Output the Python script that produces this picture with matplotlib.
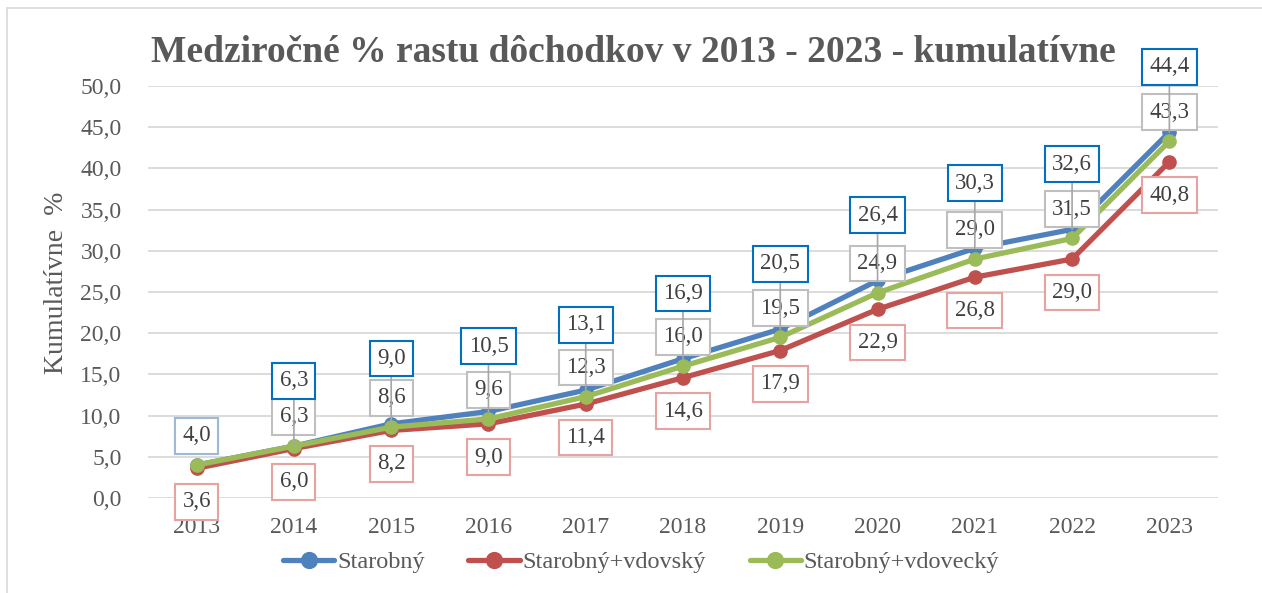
import matplotlib

matplotlib.use("Agg")
import matplotlib.pyplot as plt
from matplotlib.patches import Rectangle
from matplotlib.ticker import FuncFormatter

years = ["2013", "2014", "2015", "2016", "2017", "2018", "2019", "2020", "2021", "2022", "2023"]
starobny = [4.0, 6.3, 9.0, 10.5, 13.1, 16.9, 20.5, 26.4, 30.3, 32.6, 44.4]
vdovsky = [3.6, 6.0, 8.2, 9.0, 11.4, 14.6, 17.9, 22.9, 26.8, 29.0, 40.8]
vdovecky = [4.0, 6.3, 8.6, 9.6, 12.3, 16.0, 19.5, 24.9, 29.0, 31.5, 43.3]

TITLE = "Medziročné % rastu dôchodkov v 2013 - 2023 - kumulatívne"
YLABEL = "Kumulatívne  %"

BLUE = "#4F81BD"
RED = "#C0504D"
GREEN = "#9BBB59"
TEXT = "#595959"
LABEL_TEXT = "#404040"

plt.rcParams["font.family"] = ["Liberation Serif", "DejaVu Serif"]


def fmt(v):
    return f"{v:.1f}".replace(".", ",")


fig = plt.figure(figsize=(12.62, 5.93), dpi=100)
ax = fig.add_axes([148 / 1262, 1 - 498 / 593, 1070 / 1262, 412 / 593])

x = list(range(len(years)))
series = [
    ("Starobný", starobny, BLUE),
    ("Starobný+vdovský", vdovsky, RED),
    ("Starobný+vdovecký", vdovecky, GREEN),
]
for name, vals, col in series:
    ax.plot(x, vals, color=col, linewidth=3.8, marker="o", markersize=9.5,
            label=name, solid_capstyle="round", zorder=3)

ax.set_xlim(-0.5, len(years) - 0.5)
ax.set_ylim(0, 50)
ax.set_yticks(range(0, 51, 5))
ax.yaxis.set_major_formatter(FuncFormatter(lambda v, p: fmt(v)))
ax.set_xticks(x)
ax.set_xticklabels(years)
ax.grid(axis="y", color="#D9D9D9", linewidth=1.3)
ax.set_axisbelow(True)
for s in ax.spines.values():
    s.set_visible(False)
ax.tick_params(axis="both", length=0, labelsize=17, colors=TEXT)
ax.tick_params(axis="x", pad=14)
ax.tick_params(axis="y", pad=19)


def box(edge):
    return {"boxstyle": "square,pad=0.32", "facecolor": "white", "edgecolor": edge, "linewidth": 1.5}


# grey (vdovecký) labels above
for i, v in enumerate(vdovecky):
    ax.annotate(fmt(v), (i, v), textcoords="offset points", xytext=(0, 21),
                ha="center", va="center", fontsize=16.5, color=LABEL_TEXT,
                bbox=box("#BFBFBF"), zorder=5)

# blue (starobný) labels further above, with leader lines
for i, v in enumerate(starobny):
    off = 21 if i == 0 else 47
    arrow = None if i == 0 else {"arrowstyle": "-", "color": "#A6A6A6", "linewidth": 1.2,
                                 "shrinkA": 0, "shrinkB": 0}
    ax.annotate(fmt(v), (i, v), textcoords="offset points", xytext=(0, off),
                ha="center", va="center", fontsize=16.5, color=LABEL_TEXT,
                bbox=box("#0070C0" if i else "#9DB9D3"), arrowprops=arrow, zorder=6)

# red (vdovský) labels below
for i, v in enumerate(vdovsky):
    ax.annotate(fmt(v), (i, v), textcoords="offset points", xytext=(0, -24),
                ha="center", va="center", fontsize=16.5, color=LABEL_TEXT,
                bbox=box("#E6A3A1"), zorder=5)

fig.text(0.502, 1 - 53 / 593, TITLE, ha="center", va="center", fontsize=27,
         fontweight="bold", color=TEXT)
fig.text(57 / 1262, 1 - 283 / 593, YLABEL, ha="center", va="center", rotation=90,
         fontsize=20, color=TEXT)

fig.legend(loc="center", bbox_to_anchor=(0.508, 1 - 562 / 593), ncol=3, frameon=False,
           fontsize=17.5, handlelength=2.1, handletextpad=0.12, columnspacing=1.8,
           labelcolor=TEXT, markerscale=1.2)

fig.patches.append(Rectangle((7 / 1262, -0.05), 1.1, 1 - 8 / 593 + 0.05,
                             transform=fig.transFigure, fill=False,
                             edgecolor="#D9D9D9", linewidth=1.2))

fig.savefig("out.png", dpi=100)
